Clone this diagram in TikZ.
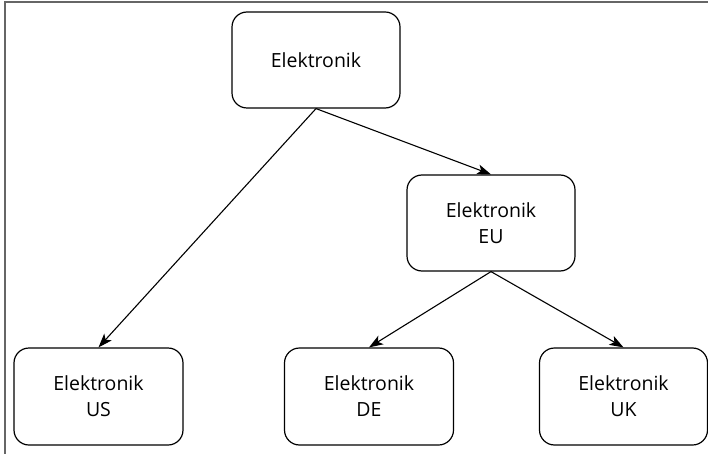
\documentclass[tikz,border=0pt]{standalone}
\usepackage{fontspec}
\setmainfont{Open Sans}
\usetikzlibrary{arrows.meta}
\begin{document}
\begin{tikzpicture}[x=1pt,y=-1pt,
  box/.style={draw=black,line width=1.2pt,rounded corners=15pt,align=center,
    font=\fontsize{19.5}{26}\selectfont,inner sep=0pt},
  link/.style={draw=black,line width=1.1pt,-{Stealth[length=14pt,width=10pt,inset=3.5pt]}},
  frame/.style={draw=black!60,line width=1.5pt}]
\useasboundingbox (0,0) rectangle (708,454);
\draw[frame] (5,454) -- (5,2) -- (708,2);
\node[box,minimum width=168pt,minimum height=96pt] (top) at (316,60) {Elektronik};
\node[box,minimum width=168pt,minimum height=96pt] (eu) at (491,223) {Elektronik\\EU};
\node[box,minimum width=169pt,minimum height=97pt] (us) at (98.5,396.5) {Elektronik\\US};
\node[box,minimum width=169pt,minimum height=97pt] (de) at (369,396.5) {Elektronik\\DE};
\node[box,minimum width=168pt,minimum height=97pt] (uk) at (623.5,396.5) {Elektronik\\UK};
\draw[link] (top.south) -- (eu.north);
\draw[link] (top.south) -- (us.north);
\draw[link] (eu.south) -- (de.north);
\draw[link] (eu.south) -- (uk.north);
\end{tikzpicture}
\end{document}
